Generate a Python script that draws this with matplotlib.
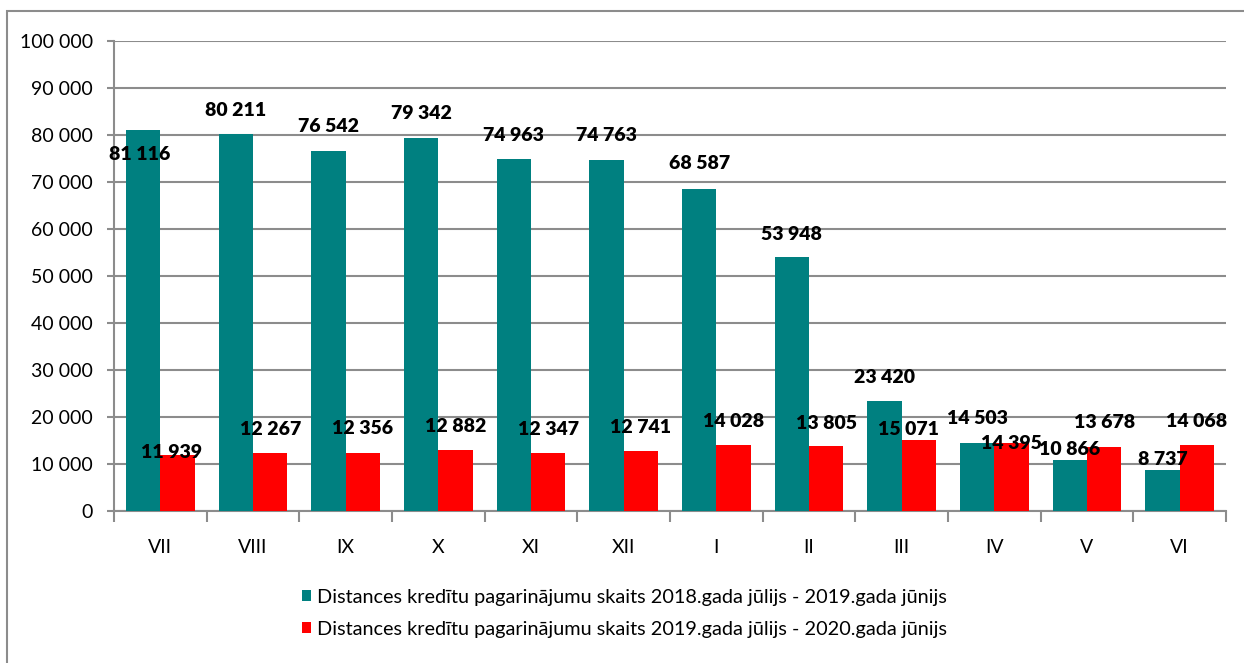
import numpy as np
import matplotlib.pyplot as plt
from matplotlib.patches import Rectangle
from matplotlib.ticker import FuncFormatter, FixedLocator

plt.rcParams['font.family'] = ['Lato', 'DejaVu Sans']

months = ['VII', 'VIII', 'IX', 'X', 'XI', 'XII', 'I', 'II', 'III', 'IV', 'V', 'VI']
counts_2018_19 = [81116, 80211, 76542, 79342, 74963, 74763, 68587, 53948, 23420, 14503, 10866, 8737]
counts_2019_20 = [11939, 12267, 12356, 12882, 12347, 12741, 14028, 13805, 15071, 14395, 13678, 14068]
series_names = ['Distances kredītu pagarinājumu skaits 2018.gada jūlijs - 2019.gada jūnijs',
                'Distances kredītu pagarinājumu skaits 2019.gada jūlijs - 2020.gada jūnijs']

# label offsets from the bar top, in pixels (dx, dy)
offs_a = [(-3, -25), (0, 24), (0, 25), (0, 25), (0, 23), (0, 24),
          (0, 25), (0, 23), (0, 23), (0, 24), (0, 10), (0, 10)]
offs_b = [(-6, 2), (0, 24), (0, 24), (0, 24), (0, 23), (0, 24),
          (0, 24), (0, 23), (-10, 11), (0, 0), (0, 24), (0, 23)]

TEAL = '#008080'
RED = '#FF0000'
GRID = '#8c8c8c'

fig = plt.figure(figsize=(12.44, 6.63), dpi=100)
ax = fig.add_axes([114 / 1244, 1 - 511 / 663, (1226 - 114) / 1244, (511 - 41) / 663])

x = np.arange(len(months))
w = 0.372
b1 = ax.bar(x - w / 2, counts_2018_19, w, color=TEAL, label=series_names[0], zorder=3)
b2 = ax.bar(x + w / 2, counts_2019_20, w, color=RED, label=series_names[1], zorder=3)

def fmt(v):
    return f'{int(v):,}'.replace(',', ' ')

px = 0.72  # pixels -> points at 100 dpi
for bars, vals, offs in [(b1, counts_2018_19, offs_a), (b2, counts_2019_20, offs_b)]:
    for rect, v, (dx, dy) in zip(bars, vals, offs):
        ax.annotate(fmt(v), (rect.get_x() + rect.get_width() / 2, v),
                    xytext=(dx * px, dy * px), textcoords='offset points',
                    ha='center', va='center', fontsize=14, fontweight='heavy',
                    color='black', zorder=5)

ax.set_xlim(-0.5, len(months) - 0.5)
ax.set_ylim(0, 100000)
ax.set_yticks(np.arange(0, 100001, 10000))
ax.yaxis.set_major_formatter(FuncFormatter(lambda v, p: fmt(v)))
ax.grid(axis='y', color=GRID, linewidth=1.5, zorder=0)

ax.set_xticks(x)
ax.set_xticklabels(months)
ax.xaxis.set_minor_locator(FixedLocator(np.arange(-0.5, len(months), 1)))
ax.tick_params(axis='x', which='major', length=0, pad=20, labelsize=14)
ax.tick_params(axis='x', which='minor', length=8, width=1.5, color=GRID)
ax.tick_params(axis='y', length=5, width=1.5, color=GRID, pad=10, labelsize=14)

for side in ['top', 'right']:
    ax.spines[side].set_visible(False)
for side in ['left', 'bottom']:
    ax.spines[side].set_color(GRID)
    ax.spines[side].set_linewidth(1.5)

leg = fig.legend(loc='center', bbox_to_anchor=(0.502, 0.075), ncol=1, frameon=False,
                 fontsize=14.3, handlelength=0.5, handleheight=0.5, handletextpad=0.3,
                 labelspacing=0.75, borderpad=0)

# outer chart frame
fig.patches.append(Rectangle((7 / 1244, -0.1), 1.2, 1.1 - 11 / 663, transform=fig.transFigure,
                             fill=False, edgecolor=GRID, linewidth=1.5))

fig.savefig('out.png', dpi=100)
